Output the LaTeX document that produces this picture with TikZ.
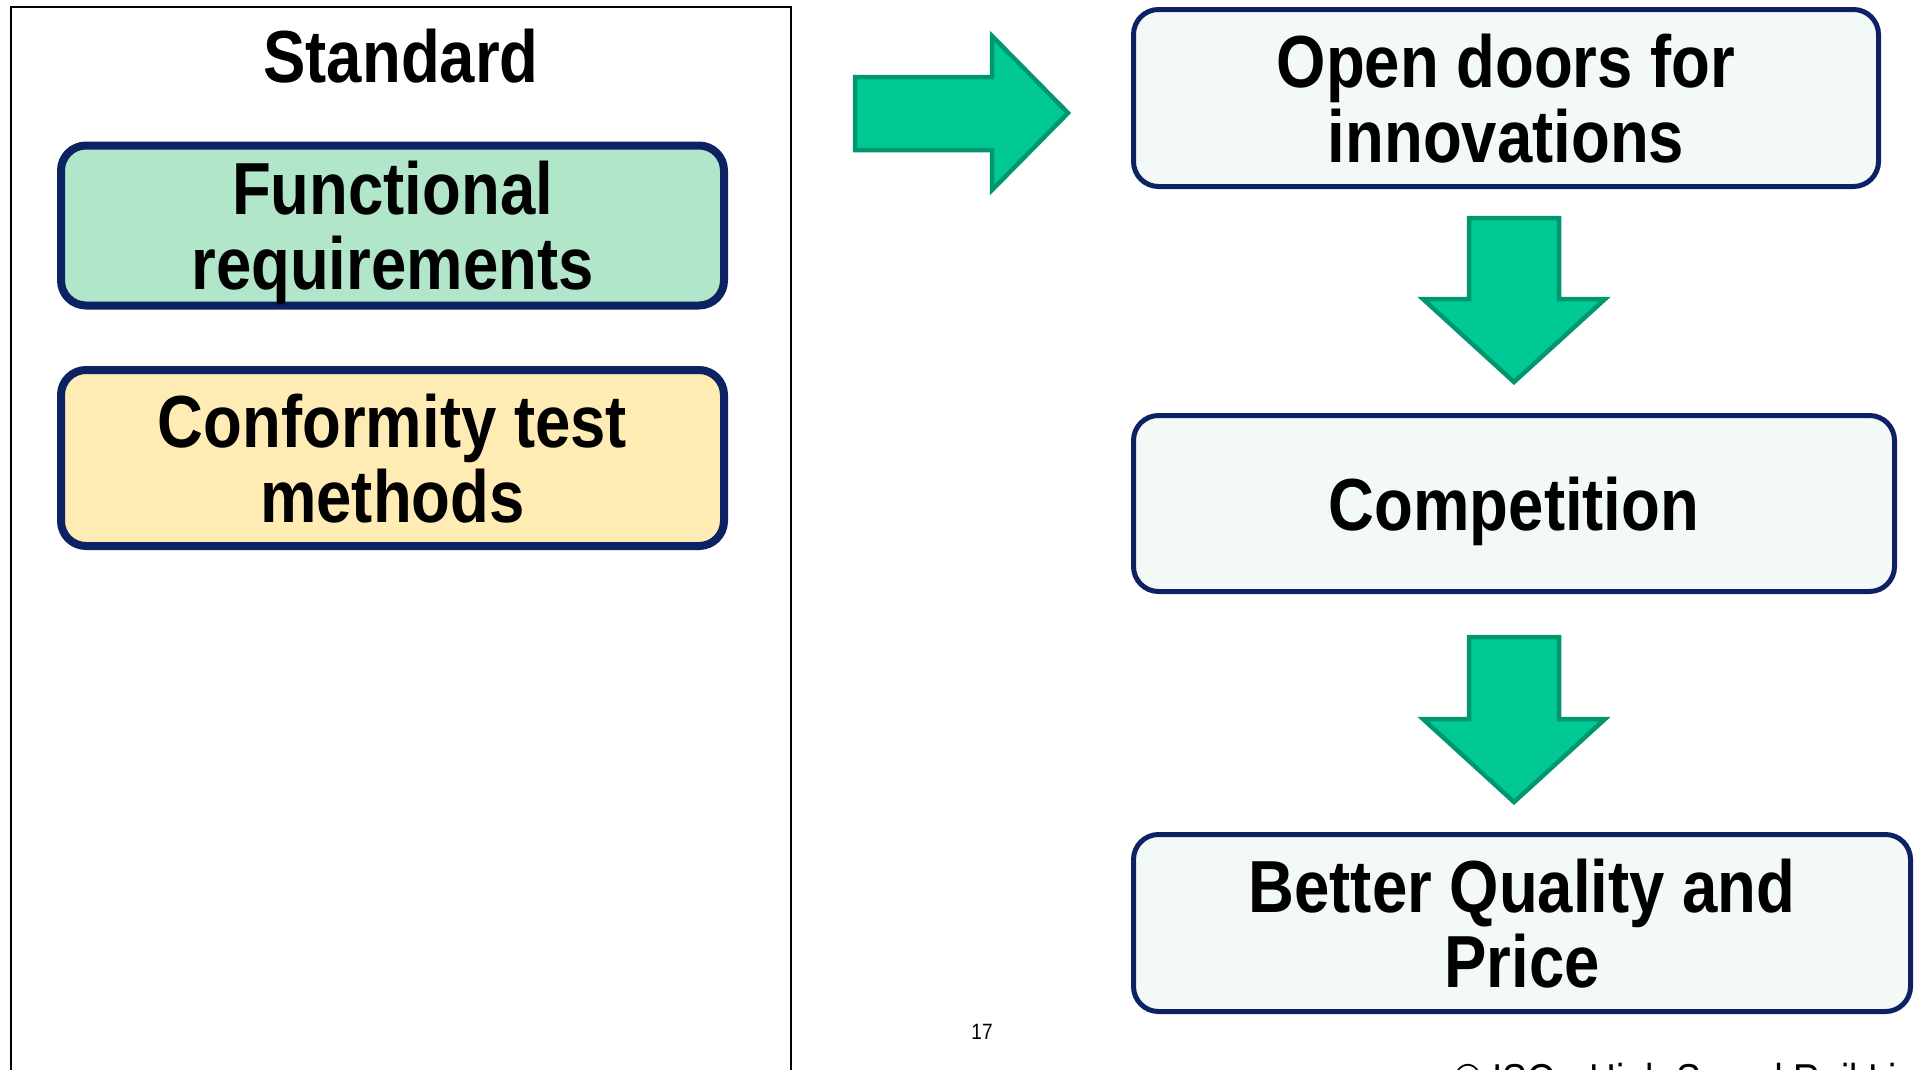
\documentclass[tikz,border=0pt]{standalone}
\usepackage{fontspec}
\setmainfont{Liberation Sans}[FakeStretch=0.86]
\usepackage{tikz}

\definecolor{navy}{RGB}{12,34,98}
\definecolor{mint}{RGB}{178,230,202}
\definecolor{sand}{RGB}{255,235,180}
\definecolor{pale}{RGB}{243,249,246}
\definecolor{teal}{RGB}{0,201,150}
\definecolor{tealdark}{RGB}{0,150,110}

\begin{document}
\begin{tikzpicture}
		[x=0.1mm,y=-0.1mm,
		 big/.style={font=\bfseries\fontsize{21}{21.3}\selectfont,align=center,
			text depth=0pt},
		 req/.style={big,draw=navy,line width=0.8mm,rounded corners=2.5mm,
			minimum width=66.3mm,inner sep=0pt},
		 goal/.style={big,draw=navy,line width=0.5mm,rounded corners=2.5mm,fill=pale,
			inner sep=0pt},
		 arr/.style={fill=teal,draw=tealdark,line width=0.45mm}]

		\useasboundingbox (0,0) rectangle (1915,1070);

		% left frame, open at the bottom
		\draw[line width=0.15mm] (11,1100) -- (11,7) -- (791,7) -- (791,1100);

		\node[big,anchor=base] (std) at (401,82) {Standard}
		;

		\node[req,fill=mint,minimum height=16.0mm] (func) at (392.5,225.5)
			{Functional\\requirements}
		;

		\node[req,fill=sand,minimum height=17.6mm] (conf) at (392.5,458)
			{Conformity test\\methods}
		;

		\node[goal,minimum width=74.5mm,minimum height=17.7mm] (open) at (1506,98)
			{Open doors for\\innovations}
		;

		\node[goal,minimum width=76.1mm,minimum height=17.6mm] (comp) at (1514,503.5)
			{Competition}
		;

		\node[goal,minimum width=77.7mm,minimum height=17.7mm] (qual) at (1522,923)
			{Better Quality and\\Price}
		;

		% block arrows
		\draw[arr] (855,77) -- (992,77) -- (992,36) -- (1068,113)
			-- (992,190) -- (992,150) -- (855,150) -- cycle;

		\draw[arr] (1469,218) -- (1559,218) -- (1559,299) -- (1605,299)
			-- (1514,382) -- (1423,299) -- (1469,299) -- cycle;

		\draw[arr] (1469,637) -- (1559,637) -- (1559,719) -- (1605,719)
			-- (1514,802) -- (1423,719) -- (1469,719) -- cycle;

		\node[anchor=base,font=\fontsize{6.3}{7}\selectfont] (page) at (982,1039) {17}
		;

		\node[anchor=base west,font=\fontsize{12.3}{14}\selectfont] (foot) at (1442,1094)
			{© ISO - High Speed Rail Li}
		;

	\end{tikzpicture}
\end{document}
